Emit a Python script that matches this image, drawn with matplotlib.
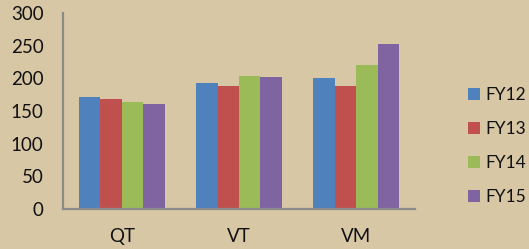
import numpy as np
import matplotlib
matplotlib.use('Agg')
import matplotlib.pyplot as plt

##### data #####
categories = ['QT', 'VT', 'VM']
series = ['FY12', 'FY13', 'FY14', 'FY15']
fy12 = [171, 193, 201]
fy13 = [168, 189, 188]
fy14 = [164, 204, 220]
fy15 = [161, 202, 253]
values = [fy12, fy13, fy14, fy15]
colors = ['#4F81BD', '#C0504D', '#9BBB59', '#8064A2']
yticks = [0, 50, 100, 150, 200, 250, 300]

bg = '#d7c7a5'
plt.rcParams['font.family'] = ['Lato', 'DejaVu Sans']

fig = plt.figure(figsize=(5.29, 2.49), dpi=100, facecolor=bg)
ax = fig.add_axes([63 / 529, 40 / 249, 352 / 529, 196 / 249])
ax.set_facecolor('none')

x = np.arange(len(categories))
w = 0.183
for i, (vals, c, name) in enumerate(zip(values, colors, series)):
    ax.bar(x + (i - 1.5) * w, vals, width=w, color=c, label=name, zorder=2)

ax.set_xlim(-0.5, 2.5)
ax.set_ylim(0, 300)
ax.set_yticks(yticks)
ax.set_xticks(x)
ax.set_xticklabels(categories)
ax.tick_params(axis='both', length=0, labelsize=13.5, colors='#111111')
ax.tick_params(axis='y', pad=14)
ax.tick_params(axis='x', pad=14)

for s in ['top', 'right']:
    ax.spines[s].set_visible(False)
for s in ['left', 'bottom']:
    ax.spines[s].set_color('#8a8a8a')
    ax.spines[s].set_linewidth(1.6)

# legend on the right, centred around y = 146 px from the top
leg = ax.legend(loc='center left', bbox_to_anchor=(468 / 529, 103 / 249),
                bbox_transform=fig.transFigure, frameon=False, fontsize=12.5,
                handlelength=0.7, handleheight=0.7, handletextpad=0.3,
                labelspacing=1.05, borderaxespad=0, borderpad=0)
for t in leg.get_texts():
    t.set_color('#111111')

fig.savefig('out.png', dpi=100, facecolor=bg)
